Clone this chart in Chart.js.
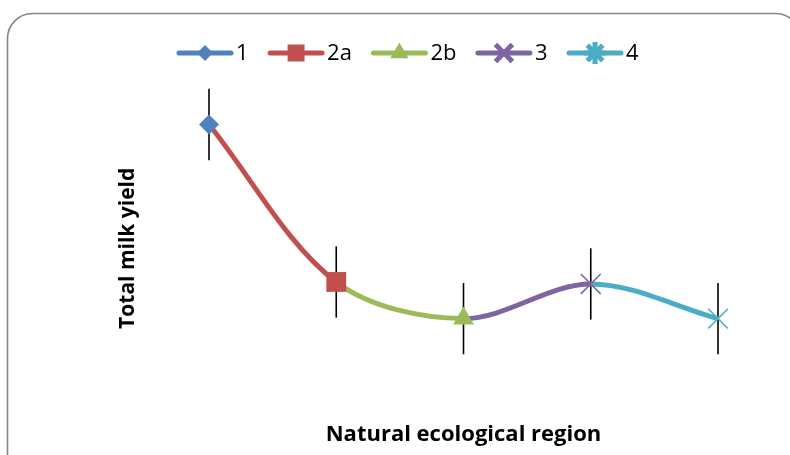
<!DOCTYPE html>
<html>
<head>
<meta charset="utf-8">
<script src="https://cdn.jsdelivr.net/npm/chart.js@4.4.1/dist/chart.umd.min.js"></script>
<style>
html,body{margin:0;padding:0;background:#fff;}
#wrap{position:relative;width:790px;height:455px;overflow:hidden;}
canvas{display:block;}
</style>
</head>
<body>
<div id="wrap"><canvas id="c" width="790" height="455"></canvas></div>
<script>
// ---- data ----
const categories = ['1', '2a', '2b', '3', '4'];
const milkYield = [3000, 1410, 1040, 1390, 1040];
const yieldError = [360, 360, 360, 360, 360];
const xTitle = 'Natural ecological region';
const yTitle = 'Total milk yield';

// ---- styles ----
const seriesColors = ['#4F81BD', '#C0504D', '#9BBB59', '#8064A2', '#4BACC6'];
const markerStyles = ['rectRot', 'rect', 'triangle', 'crossRot', 'crossRot'];
const legendStyles = ['rectRot', 'rect', 'triangle', 'crossRot', 'star'];
const markerRadius = [10, 14, 12, 14, 14];
const markerBorder = [0, 0, 0, 1.6, 1.6];
const legendRadius = [8, 12, 10.5, 12, 11];
const FONT = '"Open Sans"';

const borderPlugin = {
  id: 'outerBorder',
  beforeDraw(chart) {
    const ctx = chart.ctx;
    ctx.save();
    ctx.fillStyle = '#ffffff';
    ctx.fillRect(0, 0, chart.width, chart.height);
    ctx.beginPath();
    ctx.roundRect(7.5, 13.5, 793, 480, 25);
    ctx.strokeStyle = '#868686';
    ctx.lineWidth = 1.6;
    ctx.stroke();
    ctx.restore();
  }
};

const errorBarPlugin = {
  id: 'errorBars',
  beforeDatasetsDraw(chart) {
    const ctx = chart.ctx;
    const xs = chart.scales.x, ys = chart.scales.y;
    ctx.save();
    ctx.strokeStyle = '#000000';
    ctx.lineWidth = 1.6;
    milkYield.forEach((v, i) => {
      const x = xs.getPixelForValue(i);
      ctx.beginPath();
      ctx.moveTo(x, ys.getPixelForValue(v + yieldError[i]));
      ctx.lineTo(x, ys.getPixelForValue(v - yieldError[i]));
      ctx.stroke();
    });
    ctx.restore();
  }
};

const legendPlugin = {
  id: 'lineLegend',
  afterDraw(chart) {
    const ctx = chart.ctx;
    ctx.save();
    ctx.font = '22px ' + FONT;
    ctx.textBaseline = 'middle';
    ctx.textAlign = 'left';
    let x = 177;
    const y = 53;
    categories.forEach((label, i) => {
      ctx.strokeStyle = seriesColors[i];
      ctx.lineWidth = 5;
      ctx.lineCap = 'round';
      ctx.beginPath();
      ctx.moveTo(x + 2, y);
      ctx.lineTo(x + 54, y);
      ctx.stroke();
      ctx.lineCap = 'butt';
      ctx.fillStyle = seriesColors[i];
      ctx.strokeStyle = seriesColors[i];
      Chart.helpers.drawPoint(ctx, {
        pointStyle: legendStyles[i],
        radius: legendRadius[i],
        rotation: 0,
        borderWidth: markerBorder[i]
      }, x + 28, y);
      ctx.fillStyle = '#000000';
      ctx.fillText(label, x + 59, y + 1);
      x += 59 + ctx.measureText(label).width + 19.5;
    });
    ctx.restore();
  }
};

new Chart(document.getElementById('c'), {
  type: 'line',
  data: {
    labels: categories,
    datasets: [{
      data: milkYield,
      borderWidth: 5,
      tension: 0.33,
      borderColor: seriesColors[1],
      segment: { borderColor: ctx => seriesColors[ctx.p1DataIndex] },
      pointStyle: markerStyles,
      pointRadius: markerRadius,
      pointHoverRadius: markerRadius,
      pointBackgroundColor: seriesColors,
      pointBorderColor: seriesColors,
      pointBorderWidth: markerBorder,
      pointHoverBorderWidth: markerBorder,
      clip: false
    }]
  },
  options: {
    responsive: false,
    animation: false,
    devicePixelRatio: 1,
    events: [],
    layout: { padding: { top: 75, right: 72, bottom: 0, left: 0 } },
    plugins: { legend: { display: false }, tooltip: { enabled: false } },
    scales: {
      x: {
        type: 'category',
        offset: false,
        grid: { display: false, drawTicks: false },
        border: { display: false },
        ticks: { display: false },
        title: {
          display: true, text: xTitle, color: '#000',
          font: { family: FONT, size: 22, weight: 'bold', lineHeight: 1.2 },
          padding: { top: 0, bottom: 7 }
        }
      },
      y: {
        min: 0, max: 3500,
        grid: { display: false, drawTicks: false },
        border: { display: false },
        ticks: { display: false },
        title: {
          display: true, text: yTitle, color: '#000',
          font: { family: FONT, size: 21, weight: 'bold', lineHeight: 1.2 },
          padding: { top: 115.4, bottom: 68.4 }
        }
      }
    }
  },
  plugins: [borderPlugin, errorBarPlugin, legendPlugin]
});
</script>
</body>
</html>
